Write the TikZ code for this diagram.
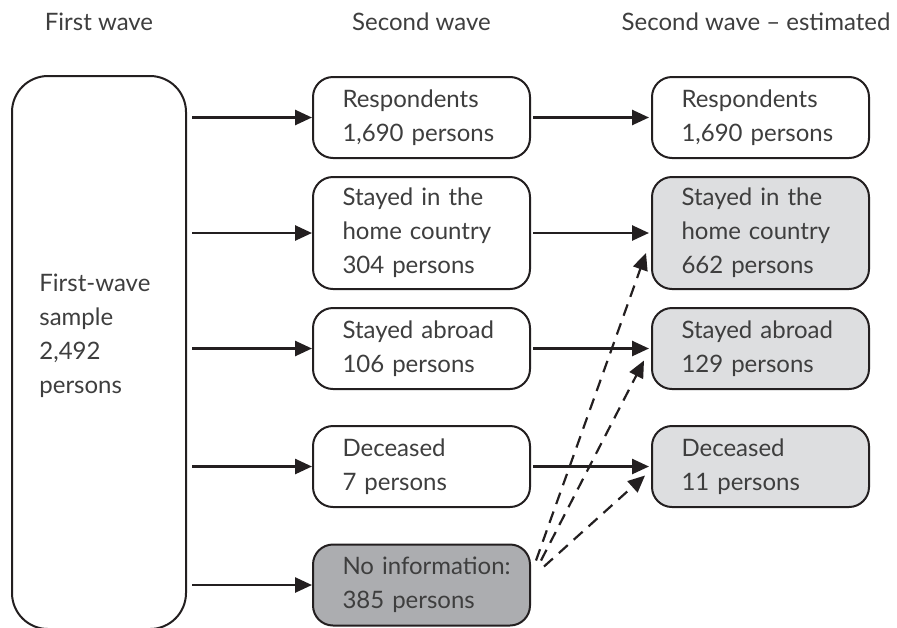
\documentclass[tikz,border=0pt]{standalone}
\usepackage{fontspec}
\setmainfont{Lato}
\usetikzlibrary{positioning,arrows.meta,calc}
\definecolor{inkline}{RGB}{35,31,32}
\definecolor{inktext}{RGB}{62,62,62}
\definecolor{estfill}{RGB}{221,222,224}
\definecolor{nofill}{RGB}{172,173,176}
\tikzset{
  flowarrow/.style={-{Triangle[length=8.5pt, width=7.5pt]}, line width=1.3pt, draw=inkline},
  estarrow/.style={flowarrow, dash pattern=on 6pt off 4pt, line width=1.1pt},
  wavebox/.style={draw=inkline, line width=1pt, rounded corners=10pt, fill=white, minimum width=108.5pt, minimum height=40.5pt, text width=79pt, inner xsep=14.75pt, align=left, text=inktext},
  estbox/.style={wavebox, fill=estfill},
  nobox/.style={wavebox, fill=nofill},
  samplebox/.style={draw=inkline, line width=1pt, rounded corners=18pt, minimum width=87pt, minimum height=276.5pt},
  header/.style={text=inktext}
}

\begin{document}
\begin{tikzpicture}[x=0.5pt, y=-0.5pt, every node/.style={font=\fontsize{12}{17}\selectfont}]
  \useasboundingbox (0,0) rectangle (897,627);
  % column headers
  \node[header] (hfirst) at (99,22) {First wave};
  \node[header] (hsecond) at (421.5,22) {Second wave};
  \node[header] (hest) at (756,22) {Second wave -- estimated};
  % first wave
  \node[samplebox] (sample) at (99,352.5) {};
  \node[text=inktext, align=left, anchor=west, inner sep=0pt] (sampletxt) at (39,336) {First-wave\\sample\\2,492\\persons};
  % second wave
  \node[wavebox] (resp) at (421.5,117.5) {Respondents\\1,690 persons};
  \node[wavebox, minimum height=56pt] (home) at (421.5,233) {Stayed in the\\home country\\304 persons};
  \node[wavebox] (abroad) at (421.5,348.5) {Stayed abroad\\106 persons};
  \node[wavebox] (dead) at (421.5,466.5) {Deceased\\7 persons};
  \node[nobox] (noinfo) at (421.5,585) {\mbox{No information:}\\385 persons};
  % second wave, estimated
  \node[wavebox] (respE) at (760.5,117.5) {Respondents\\1,690 persons};
  \node[estbox, minimum height=56pt] (homeE) at (760.5,233) {Stayed in the\\home country\\662 persons};
  \node[estbox] (abroadE) at (760.5,348.5) {Stayed abroad\\129 persons};
  \node[estbox] (deadE) at (760.5,466.5) {Deceased\\11 persons};
  % arrows
  \foreach \r in {resp,home,abroad,dead,noinfo}
    \draw[flowarrow, shorten <=2.5pt] (sample.east |- \r.west) -- (\r.west);
  \foreach \a/\b in {resp/respE,home/homeE,abroad/abroadE,dead/deadE}
    \draw[flowarrow, shorten <=1pt, shorten >=1pt] (\a) -- (\b);
  % redistributed unknowns
  \coordinate (toHome) at ($(homeE.west)+(-5,20)$);
  \coordinate (toAbroad) at ($(abroadE.west)+(-7,12)$);
  \coordinate (toDead) at ($(deadE.west)+(-6,9)$);
  \coordinate (fromHome) at ($(noinfo.north east)+(5,17)$);
  \coordinate (fromAbroad) at ($(noinfo.north east)+(10,17)$);
  \coordinate (fromDead) at ($(noinfo.north east)+(13,23)$);
  \draw[estarrow] (fromHome) -- (toHome);
  \draw[estarrow] (fromAbroad) -- (toAbroad);
  \draw[estarrow] (fromDead) -- (toDead);
\end{tikzpicture}
\end{document}
